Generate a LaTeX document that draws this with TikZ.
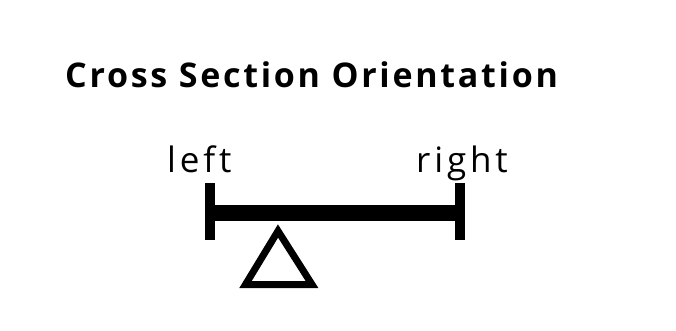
\documentclass[tikz,border=0pt]{standalone}
\usepackage{fontspec}
\setmainfont{Open Sans}
\newfontfamily\titlefont[LetterSpace=8]{Open Sans Bold}
\newfontfamily\labelfont[LetterSpace=11]{Open Sans}
\begin{document}
\begin{tikzpicture}[x=1pt,y=-1pt,
  lbl/.style={inner sep=0pt,anchor=base west,font=\labelfont\fontsize{35}{35}\selectfont},
  bar/.style={fill=black,draw=none}]
\useasboundingbox (0,0) rectangle (676,330);
\node[inner sep=0pt,anchor=base west,font=\titlefont\fontsize{34}{34}\selectfont] (title) at (65,87) {Cross Section Orientation};
\node[lbl] (left) at (167,172) {left};
\node[lbl] (right) at (416,172) {right};
\fill[bar] (205,183) rectangle (215,240);
\fill[bar] (455,183) rectangle (465,240);
\fill[bar] (215,205) rectangle (455,221);
\draw[line width=7pt,line join=miter] (278,231) -- (312,284.5) -- (245.5,284.5) -- cycle;
\end{tikzpicture}
\end{document}
